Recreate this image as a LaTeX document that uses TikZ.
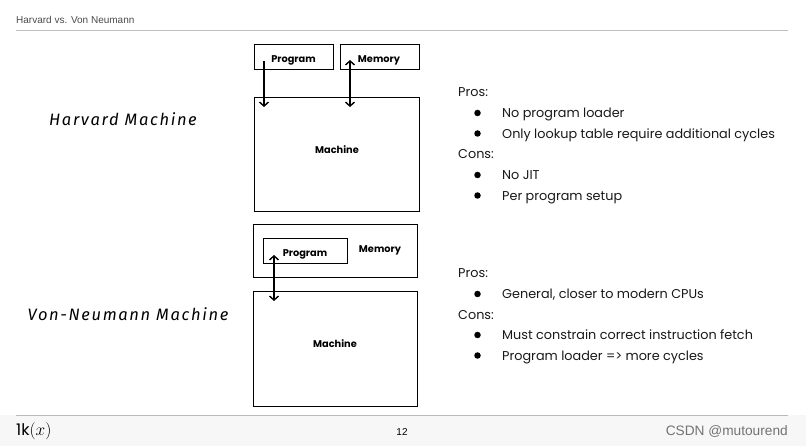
\documentclass[tikz,border=0pt]{standalone}
\usepackage{fontspec}
\setmainfont{Poppins}
\newfontfamily\footfont{Liberation Sans}
\newfontfamily\handfont[LetterSpace=10]{Fira Sans}
\usetikzlibrary{arrows.meta}
\begin{document}
\begin{tikzpicture}[x=1pt,y=-1pt,
  box/.style={draw=black,line width=1pt,fill=white},
  lbl/.style={font=\fontsize{9.8}{11}\selectfont\bfseries,inner sep=0pt},
  conn/.style={line width=1.4pt,-{Straight Barb[length=4pt,width=9pt]}},
  conn2/.style={line width=1.4pt,{Straight Barb[length=4pt,width=9pt]}-{Straight Barb[length=4pt,width=9pt]}},
  hand/.style={font=\handfont\itshape\fontsize{16.5}{18}\selectfont,inner sep=0pt},
  txt/.style={font=\fontsize{12.8}{15}\selectfont,anchor=base west,inner sep=0pt,text=black!90},
  bul/.style={fill=black,circle,inner sep=0pt,minimum size=6.5pt}
]
\useasboundingbox (0,0) rectangle (806,446);
\fill[white] (0,0) rectangle (806,446);
\fill[gray!6] (0,415) rectangle (806,446);
% header
\node[anchor=west,inner sep=0pt,font=\footfont\fontsize{10}{11}\selectfont,text=black!70] (title) at (16,20) {Harvard vs. Von Neumann};
\draw[gray!50,line width=0.8pt] (16,30) -- (788,30);
% Harvard
\node[hand] (hlabel) at (123,119) {Harvard Machine};
\draw[box] (254.5,44.5) rectangle (333.5,69.5);
\node[lbl] (hprog) at (293.5,60) {Program};
\draw[box] (340,44.5) rectangle (419.5,69.5);
\node[lbl] (hmem) at (379,60) {Memory};
\draw[box] (254.5,97.5) rectangle (419.5,211.5);
\node[lbl] (hmach) at (337,150) {Machine};
\coordinate (p1) at (264,61);
\coordinate (p2) at (264,107);
\coordinate (m1) at (350,60);
\coordinate (m2) at (350,107);
\draw[conn] (p1) -- (p2);
\draw[conn2] (m1) -- (m2);
% Von Neumann
\node[hand] (vlabel) at (128,314) {Von-Neumann Machine};
\draw[box] (253,224.5) rectangle (417,278);
\draw[box] (263,238.5) rectangle (347,264);
\node[lbl] (vprog) at (305,254) {Program};
\node[lbl] (vmem) at (380,250.5) {Memory};
\draw[box] (253,292) rectangle (417,406);
\node[lbl] (vmach) at (335,344) {Machine};
\coordinate (v1) at (274,255);
\coordinate (v2) at (274,301);
\draw[conn2] (v1) -- (v2);
% text harvard
\node[txt] (hp) at (458,97) {Pros:};
\node[bul] (b1) at (477.5,113) {}; \node[txt] (t1) at (502,118) {No program loader};
\node[bul] (b2) at (477.5,133.5) {}; \node[txt] (t2) at (502,138.5) {Only lookup table require additional cycles};
\node[txt] (hc) at (458,159) {Cons:};
\node[bul] (b3) at (477.5,175) {}; \node[txt] (t3) at (502,180) {No JIT};
\node[bul] (b4) at (477.5,195.5) {}; \node[txt] (t4) at (502,200.5) {Per program setup};
% text von neumann
\node[txt] (vp) at (458,278) {Pros:};
\node[bul] (b5) at (477.5,294) {}; \node[txt] (t5) at (502,299) {General, closer to modern CPUs};
\node[txt] (vc) at (458,319.5) {Cons:};
\node[bul] (b6) at (477.5,335) {}; \node[txt] (t6) at (502,340) {Must constrain correct instruction fetch};
\node[bul] (b7) at (477.5,355.5) {}; \node[txt] (t7) at (502,360.5) {Program loader => more cycles};
% footer
\draw[gray!55,line width=0.8pt] (16,415) -- (788,415);
\node[anchor=west,inner sep=0pt,font=\fontsize{16}{18}\selectfont] (logo) at (16,431) {1k$(x)$};
\node[inner sep=0pt,font=\footfont\fontsize{10}{11}\selectfont] (pg) at (402,432) {12};
\node[anchor=east,inner sep=0pt,font=\footfont\fontsize{13.7}{15}\selectfont,text=black!55] (csdn) at (788,431) {CSDN @mutourend};
\end{tikzpicture}
\end{document}
